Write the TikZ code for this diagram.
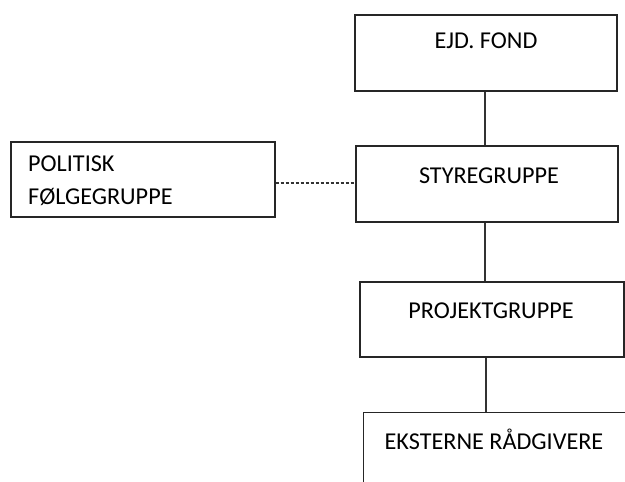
\documentclass[tikz,border=0pt]{standalone}
\usepackage{fontspec}
\setmainfont{Carlito}
\begin{document}
\begin{tikzpicture}[x=1pt,y=-1pt,
  box/.style={draw=black!85, line width=1.1pt, rectangle, inner sep=0pt},
  txt/.style={inner sep=0pt, text=black, font=\fontsize{24.2}{33}\selectfont},
  conn/.style={draw=black!80, line width=1.1pt},
  dashconn/.style={conn, dash pattern=on 3pt off 2pt}]
\useasboundingbox (0,0) rectangle (625,482);
\clip (0,0) rectangle (625,482);
\node[box, minimum width=262, minimum height=76] (ejd) at (486,53) {};
\node[box, minimum width=262, minimum height=76] (styre) at (487,184) {};
\node[box, minimum width=264, minimum height=75] (pol) at (143,179.5) {};
\node[box, minimum width=264, minimum height=75] (proj) at (492,319.5) {};
\node[box, minimum width=290, minimum height=100, anchor=north west] (eks) at (363,411.5) {};
\node[txt] (ejdT) at (486,41) {EJD. FOND};
\node[txt] (styreT) at (489,176) {STYREGRUPPE};
\node[txt] (projT) at (491,311) {PROJEKTGRUPPE};
\node[txt] (eksT) at (494,439) {EKSTERNE RÅDGIVERE};
\node[txt, align=left, anchor=west] (polT) at (28,181) {POLITISK\\FØLGEGRUPPE};
\draw[conn] ([xshift=-1]ejd.south) -- ([xshift=-1]ejd.south |- styre.north);
\draw[conn] ([xshift=-2]styre.south) -- ([xshift=-2]styre.south |- proj.north);
\draw[conn] ([xshift=-6]proj.south) -- ([xshift=-6]proj.south |- eks.north);
\draw[dashconn] ([yshift=-3.5]pol.east) -- ([yshift=-3.5]pol.east -| styre.west);
\end{tikzpicture}
\end{document}
